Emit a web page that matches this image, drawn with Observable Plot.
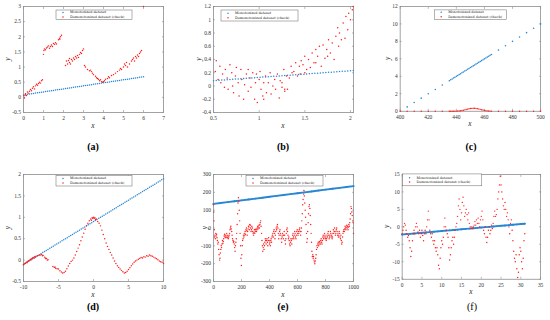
<!DOCTYPE html>
<html><head><meta charset="utf-8">
<script src="https://cdn.jsdelivr.net/npm/d3@7"></script>
<script src="https://cdn.jsdelivr.net/npm/@observablehq/plot@0.6"></script>
<style>
body{margin:0;background:#fff;}
#fig{position:relative;width:550px;height:320px;overflow:hidden;font-family:"Liberation Serif",serif;}
.panel{position:absolute;}
.cap{position:absolute;font-size:10px;transform:translate(-50%,-50%);white-space:nowrap;color:#000;}
</style></head><body><div id="fig"></div>
<script>
// ---------- data ----------
const legendLabels = ["Monotonized dataset", "Demonotonized dataset (check)"];
const captions = ["(a)", "(b)", "(c)", "(d)", "(e)", "(f)"];

const aXTicks = [0,1,2,3,4,5,6,7];
const aYTicks = [-0.5,0,0.5,1,1.5,2,2.5,3];
const aBlue = [[0,0.08],[0.1,0.09],[0.2,0.1],[0.3,0.11],[0.4,0.12],[0.5,0.13],[0.6,0.14],[0.7,0.15],[0.8,0.16],[0.9,0.17],[1,0.18],[1.1,0.19],[1.2,0.2],[1.3,0.21],[1.4,0.22],[1.5,0.23],[1.6,0.24],[1.7,0.25],[1.8,0.26],[1.9,0.27],[2,0.28],[2.1,0.29],[2.2,0.3],[2.3,0.31],[2.4,0.32],[2.5,0.33],[2.6,0.34],[2.7,0.35],[2.8,0.36],[2.9,0.37],[3,0.38],[3.1,0.39],[3.2,0.4],[3.3,0.41],[3.4,0.42],[3.5,0.43],[3.6,0.44],[3.7,0.45],[3.8,0.46],[3.9,0.47],[4,0.48],[4.1,0.49],[4.2,0.5],[4.3,0.51],[4.4,0.52],[4.5,0.53],[4.6,0.54],[4.7,0.55],[4.8,0.56],[4.9,0.57],[5,0.58],[5.1,0.59],[5.2,0.6],[5.3,0.61],[5.4,0.62],[5.5,0.63],[5.6,0.64],[5.7,0.65],[5.8,0.66],[5.9,0.67],[6,0.68]];
const aRed = [[0.02,0.05],[0.05,-0.02],[0.08,0.08],[0.1,0.12],[0.15,0.06],[0.2,0.18],[0.25,0.14],[0.3,0.2],[0.35,0.26],[0.4,0.22],[0.45,0.3],[0.5,0.35],[0.55,0.28],[0.6,0.38],[0.65,0.43],[0.7,0.4],[0.75,0.46],[0.8,0.5],[0.85,0.47],[0.9,0.55],[0.95,0.58],
[1,1.42],[1.02,1.55],[1.05,1.6],[1.1,1.57],[1.15,1.63],[1.2,1.66],[1.25,1.7],[1.3,1.62],[1.35,1.68],[1.4,1.73],[1.45,1.68],[1.5,1.78],[1.55,1.75],[1.6,1.8],[1.65,1.76],[1.75,1.9],[1.8,1.95],[1.82,1.92],[1.85,2],[1.9,2.05],
[2.1,1.05],[2.15,1.2],[2.2,1.1],[2.25,1.22],[2.3,1.15],[2.3,1.28],[2.35,1.1],[2.4,1.25],[2.45,1.2],[2.5,1.3],[2.55,1.25],[2.6,1.35],[2.65,1.3],[2.7,1.38],[2.75,1.32],[2.8,1.42],[2.85,1.48],[2.9,1.45],[2.95,1.55],[3,1.6],
[3.05,1.05],[3.1,1],[3.2,0.92],[3.3,0.88],[3.35,0.9],[3.4,0.85],[3.45,0.8],[3.5,0.75],[3.6,0.7],[3.65,0.65],[3.7,0.62],[3.75,0.6],[3.8,0.55],[3.85,0.58],[3.9,0.52],[3.95,0.5],[4,0.52],
[4.05,0.55],[4.1,0.6],[4.2,0.62],[4.25,0.68],[4.3,0.65],[4.4,0.72],[4.5,0.75],[4.6,0.8],[4.7,0.85],[4.8,0.9],[4.85,0.95],[4.9,0.92],[5,1],[5.05,1.1],[5.1,1.05],[5.15,1.15],[5.2,1],[5.3,1.1],[5.4,1.2],[5.45,1.25],[5.5,1.3],[5.55,1.2],[5.6,1.35],[5.65,1.3],[5.7,1.4],[5.75,1.35],[5.8,1.45],[5.85,1.5],[5.9,1.55],[6,3]];

const bXTicks = [0.5,1,1.5,2];
const bYTicks = [-0.4,-0.2,0,0.2,0.4,0.6,0.8,1,1.2];
const bBlue = [[0.5,0.08],[0.53,0.083],[0.56,0.086],[0.59,0.089],[0.62,0.092],[0.65,0.095],[0.68,0.098],[0.71,0.101],[0.74,0.104],[0.77,0.107],[0.8,0.11],[0.83,0.113],[0.86,0.116],[0.89,0.119],[0.92,0.122],[0.95,0.125],[0.98,0.128],[1.01,0.131],[1.04,0.134],[1.07,0.137],[1.1,0.14],[1.13,0.143],[1.16,0.146],[1.19,0.149],[1.22,0.152],[1.25,0.155],[1.28,0.158],[1.31,0.161],[1.34,0.164],[1.37,0.167],[1.4,0.17],[1.43,0.173],[1.46,0.176],[1.49,0.179],[1.52,0.182],[1.55,0.185],[1.58,0.188],[1.61,0.191],[1.64,0.194],[1.67,0.197],[1.7,0.2],[1.73,0.203],[1.76,0.206],[1.79,0.209],[1.82,0.212],[1.85,0.215],[1.88,0.218],[1.91,0.221],[1.94,0.224],[1.97,0.227],[2,0.23],[2.03,0.233]];
const bRed = [[0.52,0.22],[0.53,0.38],[0.55,0.1],[0.57,0.3],[0.58,0.05],[0.6,0.18],[0.62,-0.02],[0.63,0.25],[0.65,0.12],[0.66,-0.05],[0.68,0.32],[0.7,0.2],[0.71,0],[0.72,-0.1],[0.74,0.15],[0.75,0.28],[0.77,0.05],[0.78,-0.15],[0.8,0.25],[0.81,0.1],[0.83,-0.2],[0.84,0.02],[0.86,0.18],[0.88,-0.08],[0.88,0.25],[0.9,0.12],[0.91,-0.02],[0.93,0.2],[0.95,-0.2],[0.96,0.05],[0.97,0.18],[0.98,-0.25],[1,0.1],[1.01,0.22],[1.02,-0.05],[1.04,-0.15],[1.05,0.05],[1.05,-0.2],[1.07,0.15],[1.08,-0.1],[1.1,0.05],[1.12,0.2],[1.13,-0.12],[1.15,0],[1.17,0.1],[1.18,-0.05],[1.2,0.18],[1.22,-0.18],[1.23,0.08],[1.25,0.05],[1.25,-0.02],[1.27,0.25],[1.28,-0.05],[1.28,-0.08],[1.3,0.15],[1.31,-0.05],[1.33,0.12],[1.35,0.3],[1.36,0.2],[1.38,0.22],[1.4,0.35],[1.42,0.15],[1.44,0.3],[1.45,0.18],[1.46,0.38],[1.48,0.32],[1.5,0.45],[1.5,0.2],[1.52,0.25],[1.54,0.4],[1.56,0.28],[1.58,0.5],[1.6,0.35],[1.62,0.55],[1.62,0.35],[1.64,0.45],[1.66,0.6],[1.68,0.3],[1.7,0.62],[1.72,0.42],[1.74,0.55],[1.75,0.45],[1.76,0.7],[1.78,0.5],[1.8,0.65],[1.82,0.4],[1.84,0.75],[1.86,0.88],[1.87,0.6],[1.88,0.8],[1.9,0.7],[1.92,0.95],[1.94,0.72],[1.95,1.05],[1.97,0.85],[1.98,1.1],[2,1],[2.02,1.15],[2.03,1.2]];

const cXTicks = [400,420,440,460,480,500];
const cYTicks = [0,2,4,6,8,10,12];
const cBlue = [[405,0.5],[410,1],[415,1.5],[420,2],[425,2.5],[430,3],[435,3.5],[436,3.6],[437,3.7],[438,3.8],[439,3.9],[440,4],[441,4.1],[442,4.2],[443,4.3],[444,4.4],[445,4.5],[446,4.6],[447,4.7],[448,4.8],[449,4.9],[450,5],[451,5.1],[452,5.2],[453,5.3],[454,5.4],[455,5.5],[456,5.6],[457,5.7],[458,5.8],[459,5.9],[460,6],[461,6.1],[462,6.2],[463,6.3],[464,6.4],[465,6.5],[470,7],[475,7.5],[480,8],[485,8.5],[490,9],[495,9.5],[500,10]];
const cRed = [[400,0],[405,0],[410,0],[415,0],[420,0],[425,0],[430,0],[435,0],[436,0],[437,0],[438,0],[439,0.01],[440,0.02],[441,0.03],[442,0.04],[443,0.06],[444,0.09],[445,0.12],[446,0.16],[447,0.2],[448,0.24],[449,0.28],[450,0.31],[451,0.33],[452,0.35],[453,0.34],[454,0.32],[455,0.3],[456,0.26],[457,0.22],[458,0.18],[459,0.14],[460,0.1],[461,0.07],[462,0.05],[463,0.03],[464,0.02],[465,0.01],[470,0],[475,0],[480,0],[485,0],[490,0],[495,0],[500,0]];

const dXTicks = [-10,-5,0,5,10];
const dYTicks = [-0.5,0,0.5,1,1.5,2];
const dBlue = [[-10,-0.1],[-9.75,-0.075],[-9.5,-0.05],[-9.25,-0.025],[-9,0],[-8.75,0.025],[-8.5,0.05],[-8.25,0.075],[-8,0.1],[-7.75,0.125],[-7.5,0.15],[-7.25,0.175],[-7,0.2],[-6.75,0.225],[-6.5,0.25],[-6.25,0.275],[-6,0.3],[-5.75,0.325],[-5.5,0.35],[-5.25,0.375],[-5,0.4],[-4.75,0.425],[-4.5,0.45],[-4.25,0.475],[-4,0.5],[-3.75,0.525],[-3.5,0.55],[-3.25,0.575],[-3,0.6],[-2.75,0.625],[-2.5,0.65],[-2.25,0.675],[-2,0.7],[-1.75,0.725],[-1.5,0.75],[-1.25,0.775],[-1,0.8],[-0.75,0.825],[-0.5,0.85],[-0.25,0.875],[0,0.9],[0.25,0.925],[0.5,0.95],[0.75,0.975],[1,1],[1.25,1.025],[1.5,1.05],[1.75,1.075],[2,1.1],[2.25,1.125],[2.5,1.15],[2.75,1.175],[3,1.2],[3.25,1.225],[3.5,1.25],[3.75,1.275],[4,1.3],[4.25,1.325],[4.5,1.35],[4.75,1.375],[5,1.4],[5.25,1.425],[5.5,1.45],[5.75,1.475],[6,1.5],[6.25,1.525],[6.5,1.55],[6.75,1.575],[7,1.6],[7.25,1.625],[7.5,1.65],[7.75,1.675],[8,1.7],[8.25,1.725],[8.5,1.75],[8.75,1.775],[9,1.8],[9.25,1.825],[9.5,1.85],[9.75,1.875],[10,1.9]];
const dRed = [[-10,-0.11],[-9.9,-0.09],[-9.8,-0.08],[-9.7,-0.07],[-9.6,-0.05],[-9.5,-0.06],[-9.4,-0.03],[-9.3,-0.02],[-9.2,-0.01],[-9.1,0],[-9,0.02],[-8.9,0.01],[-8.8,0.04],[-8.7,0.05],[-8.6,0.06],[-8.5,0.05],[-8.4,0.08],[-8.3,0.07],[-8.2,0.09],[-8,0.1],[-7.8,0.11],[-7.6,0.12],[-7.4,0.13],[-7.3,0.1],[-7.2,0.11],[-7,0.07],[-6.9,0.05],[-6.8,0.03],[-6.7,0.04],[-6.6,0],[-6.5,0.01],
[-5.8,-0.15],[-5.6,-0.17],[-5.5,-0.16],[-5.4,-0.19],[-5.2,-0.2],[-5,-0.21],[-4.8,-0.25],[-4.6,-0.28],[-4.4,-0.3],[-4.2,-0.29],[-4,-0.26],[-3.8,-0.2],[-3.6,-0.14],[-3.4,-0.08],[-3.2,-0.03],[-3,0],[-2.8,0.05],[-2.6,0.12],[-2.4,0.2],[-2.2,0.28],[-2,0.36],[-1.8,0.45],[-1.6,0.54],[-1.4,0.63],[-1.2,0.72],[-1,0.8],[-0.8,0.86],[-0.6,0.92],[-0.4,0.96],[-0.3,0.93],[-0.2,0.99],[-0.1,0.97],[0,1],[0.1,0.98],[0.2,0.99],[0.3,0.95],[0.4,0.96],[0.6,0.9],[0.8,0.86],[1,0.8],[1.2,0.7],[1.4,0.6],[1.6,0.5],[1.8,0.4],[2,0.32],[2.2,0.25],[2.4,0.18],[2.6,0.12],[2.8,0.05],[3,-0.02],[3.2,-0.08],[3.4,-0.13],[3.6,-0.17],[3.8,-0.21],[4,-0.24],[4.2,-0.27],[4.4,-0.3],[4.6,-0.29],[4.8,-0.26],[5,-0.22],[5.2,-0.18],[5.4,-0.13],[5.6,-0.09],[5.8,-0.05],[6,-0.02],[6.2,0],[6.4,0.02],[6.6,0.04],[6.8,0.06],[7,0.05],[7.2,0.08],[7.4,0.07],[7.6,0.1],[7.8,0.09],[8,0.12],[8.2,0.1],[8.4,0.09],[8.6,0.07],[8.8,0.05],[9,0.03],[9.2,0.01],[9.4,-0.02],[9.6,-0.04],[9.8,-0.05],[10,-0.08]];

const eXTicks = [0,200,400,600,800,1000];
const eYTicks = [-300,-200,-100,0,100,200,300];
const eBlue = [[0,135],[50,140],[100,145],[150,150],[200,155],[250,160],[300,165],[350,170],[400,175],[450,180],[500,185],[550,190],[600,195],[650,200],[700,205],[750,210],[800,215],[850,220],[900,225],[950,230],[1000,235]];
const eRed = [[0,130],[2,90],[4,40],[6,-10],[8,-50],[10,-40],[13,-60],[16,-30],[19,-45],[22,-35],[25,-55],[28,-70],[31,-90],[34,-80],[37,-120],[40,-150],[43,-180],[46,-170],[49,-140],[52,-120],[55,-100],[58,-110],[61,-90],[64,-70],[67,-85],[70,-75],[73,-60],[76,-45],[79,-35],[82,-50],[85,-40],[88,-55],[91,-50],[94,-30],[97,-40],[100,-55],[103,-45],[106,-60],[109,-50],[112,-40],[115,-30],[118,-10],[121,0],[124,10],[127,-5],[130,-20],[133,-40],[136,-60],[139,-70],[142,-80],[145,-75],[148,-90],[151,-110],[154,-130],[157,-100],[160,-80],[163,-60],[166,-30],[169,20],[172,80],[175,140],[178,170],[181,150],[184,100],[187,40],[190,-30],[193,-100],[196,-170],[199,-210],[202,-150],[205,-100],[208,-70],[211,-60],[214,-40],[217,-50],[220,-30],[223,-40],[226,-20],[229,-35],[232,-10],[235,0],[238,-15],[241,-40],[244,-20],[247,-5],[250,10],[253,5],[256,-10],[259,20],[262,15],[265,0],[268,-20],[271,-10],[274,10],[277,0],[280,-20],[283,-30],[286,-40],[289,-25],[292,-10],[295,-30],[298,-20],[301,-10],[304,-5],[307,-20],[310,-10],[313,0],[316,10],[319,-5],[322,5],[325,15],[328,0],[331,20],[334,30],[337,40],[340,10],[343,-30],[346,-70],[349,-100],[352,-130],[355,-110],[358,-90],[361,-120],[364,-100],[367,-80],[370,-60],[373,-70],[376,-90],[379,-70],[382,-60],[385,-80],[388,-100],[391,-70],[394,-55],[397,-70],[400,-90],[403,-80],[406,-100],[409,-70],[412,-60],[415,-80],[418,-50],[421,-40],[424,-30],[427,-50],[430,-20],[433,-10],[436,-30],[439,-60],[442,-40],[445,-20],[448,0],[451,-10],[454,10],[457,20],[460,0],[463,-30],[466,-60],[469,-40],[472,-20],[475,-10],[478,-30],[481,-40],[484,-60],[487,-80],[490,-50],[493,-30],[496,-40],[499,-60],[502,-40],[505,-20],[508,-40],[511,-70],[514,-90],[517,-60],[520,-30],[523,-10],[526,0],[529,-20],[532,-40],[535,-60],[538,-50],[541,-70],[544,-90],[547,-100],[550,-80],[553,-60],[556,-70],[559,-90],[562,-60],[565,-40],[568,-30],[571,-50],[574,-60],[577,-40],[580,-20],[583,-30],[586,-50],[589,-60],[592,-40],[595,-20],[598,-10],[601,-30],[604,-40],[607,-20],[610,-30],[613,-10],[616,0],[619,-20],[622,-40],[625,-20],[628,0],[631,40],[634,80],[637,130],[640,160],[643,190],[646,210],[649,180],[652,140],[655,100],[658,60],[661,20],[664,-30],[667,-80],[670,-60],[673,-20],[676,30],[679,80],[682,120],[685,130],[688,110],[691,70],[694,20],[697,-30],[700,-80],[703,-130],[706,-160],[709,-150],[712,-170],[715,-160],[718,-180],[721,-190],[724,-200],[727,-185],[730,-170],[733,-150],[736,-120],[739,-100],[742,-110],[745,-90],[748,-80],[751,-100],[754,-90],[757,-75],[760,-80],[763,-90],[766,-70],[769,-60],[772,-80],[775,-90],[778,-70],[781,-50],[784,-40],[787,-60],[790,-50],[793,-30],[796,-40],[799,-60],[802,-50],[805,-70],[808,-60],[811,-40],[814,-50],[817,-30],[820,-20],[823,-40],[826,-60],[829,-50],[832,-40],[835,-20],[838,-30],[841,-50],[844,-40],[847,-60],[850,-50],[853,-30],[856,-10],[859,-30],[862,-20],[865,0],[868,-20],[871,-40],[874,-30],[877,-10],[880,0],[883,-20],[886,-40],[889,-30],[892,-50],[895,-40],[898,-20],[901,-30],[904,-50],[907,-60],[910,-40],[913,-70],[916,-90],[919,-80],[922,-50],[925,-30],[928,-20],[931,-10],[934,-20],[937,-5],[940,10],[943,0],[946,-10],[949,5],[952,15],[955,0],[958,10],[961,-10],[964,5],[967,20],[970,10],[973,30],[976,50],[979,80],[982,120],[985,110],[988,90],[991,70],[994,40],[997,30],[1000,-30]];

const fXTicks = [0,5,10,15,20,25,30,35];
const fYTicks = [-15,-10,-5,0,5,10,15];
const fBlue = [[0,-2.2],[1,-2.1],[2,-2],[3,-1.9],[4,-1.8],[5,-1.7],[6,-1.6],[7,-1.5],[8,-1.4],[9,-1.3],[10,-1.2],[11,-1.1],[12,-1],[13,-0.9],[14,-0.8],[15,-0.7],[16,-0.6],[17,-0.5],[18,-0.4],[19,-0.3],[20,-0.2],[21,-0.1],[22,0],[23,0.1],[24,0.2],[25,0.3],[26,0.4],[27,0.5],[28,0.6],[29,0.7],[30,0.8],[31,0.9]];
const fRed = [[0,-2],[0.2,-1],[0.4,0],[0.6,1],[0.8,0.5],[1,-1],[1.2,-2],[1.4,-3],[1.6,-2.5],[1.8,-4],[2,-6],[2.2,-8.5],[2.4,-7],[2.6,-4],[2.8,-2],[3,-1],[3.2,-2],[3.4,0],[3.6,1],[3.8,0],[4,-1.5],[4.2,-2],[4.4,-1],[4.6,-3],[4.8,-2],[5,-1],[5.2,-2.5],[5.4,-4],[5.6,-2],[5.8,-1],[6,-2],[6.2,0],[6.4,2],[6.6,4.5],[6.8,2],[7,-1],[7.2,-2],[7.4,-3],[7.6,-2],[7.8,-4],[8,-5],[8.2,-4],[8.4,-6],[8.6,-7],[8.8,-6],[9,-8],[9.2,-11],[9.4,-12],[9.6,-9],[9.8,-6],[10,-4],[10.2,-5],[10.4,-3],[10.6,0],[10.8,2.5],[11,0],[11.2,-1],[11.4,-2],[11.6,-3],[11.8,-6],[12,-9.5],[12.2,-8],[12.4,-6],[12.6,-4],[12.8,-3],[13,-5],[13.2,-3],[13.4,-1],[13.6,0],[13.8,1],[14,3],[14.2,6],[14.4,8],[14.6,5],[14.8,2],[15,4],[15.2,7],[15.4,8.5],[15.6,6],[15.8,3],[16,4],[16.2,5],[16.4,3.5],[16.6,2],[16.8,4],[17,1],[17.2,0],[17.4,-0.5],[17.6,0],[17.8,-0.5],[18,0],[18.2,0.5],[18.4,1.5],[18.6,0.5],[18.8,2],[19,1],[19.2,2.5],[19.4,1],[19.6,0],[19.8,2],[20,3],[20.2,4.5],[20.4,2],[20.6,-1],[20.8,-2],[21,0],[21.2,-3],[21.4,-4.5],[21.6,-3],[21.8,-1],[22,0],[22.2,-2],[22.4,-1],[22.6,0.5],[22.8,-0.5],[23,1],[23.2,3],[23.4,4.5],[23.6,3],[23.8,3.5],[24,5],[24.2,8],[24.4,10],[24.6,12],[24.8,14.5],[25,12],[25.2,10],[25.4,8],[25.6,6],[25.8,5],[26,7],[26.2,5],[26.4,3],[26.6,4],[26.8,2],[27,0],[27.2,-2],[27.4,1],[27.6,2],[27.8,-1],[28,-4],[28.2,-7],[28.4,-9],[28.6,-10],[28.8,-8],[29,-12],[29.2,-14.5],[29.4,-13],[29.6,-8],[29.8,-6],[30,-7],[30.2,-10],[30.4,-12],[30.6,-9],[30.8,-4],[31,-2]];

// ---------- layout / style ----------
const BLUE = "#2787d4", RED = "#FF1A1A", AXC = "#8c8c8c", TXT = "#333";
const FONT = '"Liberation Serif", "Times New Roman", serif';
const LFONT = '"DejaVu Serif", serif';
const ML = 30, MR = 10, MT = 6, MB = 30;
const panels = [
  {blue:aBlue, red:aRed, xd:[0,7], yd:[-0.5,3], xt:aXTicks, yt:aYTicks, frame:[23,163,6,112], legend:[56,10,76,9.5], ylg:15, capY:146, bold:true, br:0.75, rr:0.72, line:false},
  {blue:bBlue, red:bRed, xd:[0.5,2.033], yd:[-0.4,1.2], xt:bXTicks, yt:bYTicks, frame:[213,353,6,112], legend:[221,10,77,11], ylg:14, capY:146, bold:true, br:0.75, rr:0.75, line:false},
  {blue:cBlue, red:cRed, xd:[400,500], yd:[0,12], xt:cXTicks, yt:cYTicks, frame:[400,542,6,112], legend:[435,10,73,9.5], ylg:11, capY:146, bold:true, br:0.8, rr:0.7, line:false},
  {blue:dBlue, red:dRed, xd:[-10,10], yd:[-0.5,2], xt:dXTicks, yt:dYTicks, frame:[23,163,174,281], legend:[56,175.5,76,10.5], ylg:15, capY:306, bold:true, br:0.75, rr:0.72, line:false},
  {blue:eBlue, red:eRed, xd:[0,1000], yd:[-300,300], xt:eXTicks, yt:eYTicks, frame:[213,353,174,281], legend:[246,175.5,77,10.5], ylg:8, capY:306, bold:true, br:0.9, rr:0.72, line:true},
  {blue:fBlue, red:fRed, xd:[0,35], yd:[-15,15], xt:fXTicks, yt:fYTicks, frame:[402,542,174,280], legend:[403,174,80,12], ylg:15, capY:306, bold:false, br:0.9, rr:0.72, line:true}
];

const fig = document.getElementById("fig");
const fmt = d => String(d);

panels.forEach((p, i) => {
  const [L, R, T, B] = p.frame;
  const w = R - L + ML + MR, h = B - T + MT + MB;
  const ox = L - ML, oy = T - MT;
  const tickOpts = {tickSize: -2, fill: "none", stroke: AXC, strokeWidth: 0.6, label: null};
  const marks = [
    Plot.axisX({ticks: p.xt, tickSize: 0, tickPadding: 4, tickFormat: fmt, label: null, fontSize: 5.5, fill: TXT}),
    Plot.axisY({ticks: p.yt, tickSize: 0, tickPadding: 2.5, tickFormat: fmt, label: null, fontSize: 5.5, fill: TXT}),
    Plot.axisX({ticks: p.xt, ...tickOpts}),
    Plot.axisX({ticks: p.xt, anchor: "top", ...tickOpts}),
    Plot.axisY({ticks: p.yt, ...tickOpts}),
    Plot.axisY({ticks: p.yt, anchor: "right", ...tickOpts}),
    Plot.frame({stroke: AXC, strokeWidth: 0.8}),
  ];
  if (p.line) marks.push(Plot.line(p.blue, {x: d => d[0], y: d => d[1], stroke: BLUE, strokeWidth: 1.9}));
  marks.push(Plot.dot(p.blue, {x: d => d[0], y: d => d[1], r: p.br, fill: BLUE, stroke: null}));
  marks.push(Plot.dot(p.red, {x: d => d[0], y: d => d[1], r: p.rr, fill: RED, stroke: null}));

  const svg = Plot.plot({
    width: w, height: h, marginLeft: ML, marginRight: MR, marginTop: MT, marginBottom: MB,
    x: {domain: p.xd, axis: null}, y: {domain: p.yd, axis: null},
    style: {fontFamily: FONT, fontSize: "5.5px", color: TXT, background: "transparent", overflow: "visible"},
    marks
  });
  const holder = document.createElement("div");
  holder.className = "panel";
  holder.style.left = ox + "px";
  holder.style.top = oy + "px";
  holder.appendChild(svg);
  fig.appendChild(holder);

  const s = d3.select(svg);
  // axis labels
  s.append("text").attr("x", ML + (R - L) / 2).attr("y", MT + (B - T) + 14)
    .attr("text-anchor", "middle").attr("dominant-baseline", "middle")
    .attr("font-style", "italic").attr("font-size", 7.5).attr("fill", "#222").text("x");
  s.append("text").attr("transform", `translate(${ML - p.ylg},${MT + (B - T) / 2}) rotate(-90)`)
    .attr("text-anchor", "middle").attr("dominant-baseline", "middle")
    .attr("font-style", "italic").attr("font-size", 7.5).attr("fill", "#222").text("y");
  // legend
  const [lx, ly, lw, lh] = p.legend;
  const g = s.append("g").attr("text-anchor", "start");
  g.append("rect").attr("x", lx - ox).attr("y", ly - oy).attr("width", lw).attr("height", lh)
    .attr("fill", "white").attr("stroke", "#666").attr("stroke-width", 0.5);
  [[BLUE, legendLabels[0]], [RED, legendLabels[1]]].forEach(([c, t], k) => {
    const cy = ly - oy + lh / 2 + (k === 0 ? -2.25 : 2.25);
    g.append("circle").attr("cx", lx - ox + 7).attr("cy", cy).attr("r", 0.75).attr("fill", c);
    g.append("text").attr("x", lx - ox + 14).attr("y", cy).attr("text-anchor", "start").attr("dominant-baseline", "middle")
      .attr("font-family", LFONT).attr("font-size", 3.4).attr("fill", "#222").text(t);
  });

  const cap = document.createElement("div");
  cap.className = "cap";
  cap.style.left = ((L + R) / 2) + "px";
  cap.style.top = p.capY + "px";
  cap.style.fontWeight = p.bold ? "bold" : "normal";
  cap.textContent = captions[i];
  fig.appendChild(cap);
});
</script>
</body></html>
